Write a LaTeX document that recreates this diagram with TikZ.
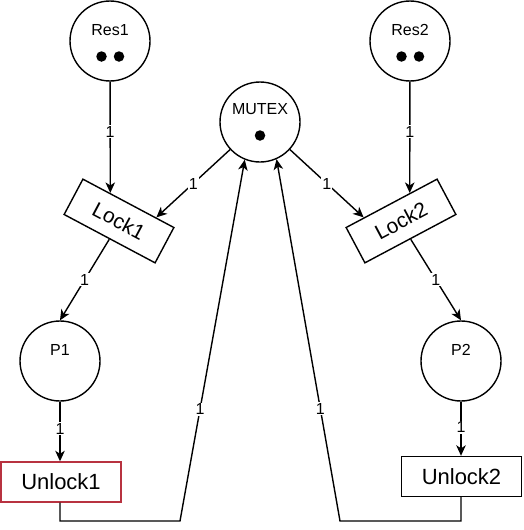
\documentclass[tikz,border=0pt]{standalone}
\usepackage{fontspec}
\setmainfont{Liberation Sans}
\usetikzlibrary{arrows.meta,calc}
\definecolor{redline}{RGB}{184,50,64}
\begin{document}
\begin{tikzpicture}[x=1pt,y=-1pt,
  place/.style={circle,draw,line width=1.4pt,minimum size=80pt,inner sep=0pt},
  trans/.style={rectangle,draw,line width=1.4pt,minimum width=103pt,minimum height=40pt,inner sep=0pt,font=\fontsize{21}{21}\selectfont},
  ubox/.style={rectangle,draw,line width=1.4pt,minimum width=120pt,minimum height=40pt,inner sep=0pt,font=\fontsize{22}{22}\selectfont},
  pname/.style={font=\fontsize{16}{16}\selectfont,inner sep=0pt},
  tok/.style={circle,fill=black,inner sep=0pt,minimum size=10.5pt},
  arc/.style={line width=1.4pt,-{Stealth[length=10.5pt,width=9.5pt,inset=3pt]}},
  lbl/.style={fill=white,inner sep=1pt,font=\fontsize{16}{16}\selectfont}]
\useasboundingbox (0,0) rectangle (523,530);
% places
\node[place] (res1) at (110,41) {};
\node[place] (res2) at (410,41) {};
\node[place] (mutex) at (260,122) {};
\node[place] (p1) at (60,361) {};
\node[place] (p2) at (461,361) {};
\node[pname] (res1t) at (110,30) {Res1};
\node[pname] (res2t) at (410,30) {Res2};
\node[pname] (mutext) at (260,109) {MUTEX};
\node[pname] (p1t) at (60,350) {P1};
\node[pname] (p2t) at (461,350) {P2};
% tokens
\node[tok] (r1a) at (101.5,56.5) {};
\node[tok] (r1b) at (119,56.5) {};
\node[tok] (r2a) at (401.5,56.5) {};
\node[tok] (r2b) at (419,56.5) {};
\node[tok] (mt) at (260,135.5) {};
% transitions
\node[trans,rotate=-28] (lock1) at (119,221) {Lock1};
\node[trans,rotate=28] (lock2) at (401,221) {Lock2};
\node[ubox,draw=redline] (unlock1) at (61,482) {Unlock1};
\node[ubox] (unlock2) at (461.5,476.5) {Unlock2};
% entry points
\coordinate (l1r) at ($(lock1.north west)!0.30!(lock1.north east)$);
\coordinate (l1m) at ($(lock1.north west)!0.80!(lock1.north east)$);
\coordinate (l2r) at ($(lock2.north west)!0.70!(lock2.north east)$);
\coordinate (l2m) at ($(lock2.north west)!0.20!(lock2.north east)$);
\coordinate (c1) at (180,521);
\coordinate (c2) at (340,521);
% arcs
\draw[arc] (res1) -- node[lbl,pos=0.45]{1} (l1r);
\draw[arc] (res2) -- node[lbl,pos=0.45]{1} (l2r);
\draw[arc] (mutex) -- node[lbl,pos=0.5]{1} (l1m);
\draw[arc] (mutex) -- node[lbl,pos=0.5]{1} (l2m);
\draw[arc] (lock1.south) -- node[lbl,pos=0.5]{1} (p1.north);
\draw[arc] (lock2.south) -- node[lbl,pos=0.5]{1} (p2.north);
\draw[arc] (p1.south) -- node[lbl,pos=0.45]{1} (p1.south |- unlock1.north);
\draw[arc] (p2.south) -- node[lbl,pos=0.47]{1} (p2.south |- unlock2.north);
\draw[arc] (unlock1.south -| p1.south) |- (c1) -- node[lbl,pos=0.31]{1} (mutex.248);
\draw[arc] (unlock2.south -| p2.south) |- (c2) -- node[lbl,pos=0.31]{1} (mutex.294);
\end{tikzpicture}
\end{document}
